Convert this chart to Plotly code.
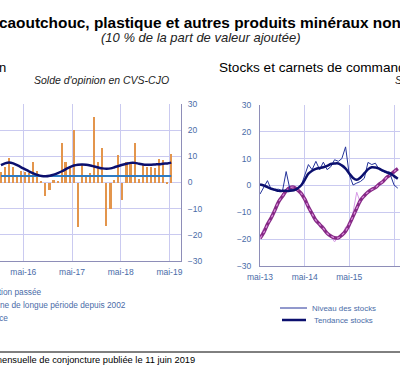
import pandas as pd
import plotly.graph_objects as go

# ---------------- data ----------------
# Left panel: monthly balance of opinion (Nov 2015 .. May 2019)
left_months = pd.date_range("2015-11-01", periods=43, freq="MS") + pd.Timedelta(days=14)
evolution_passee = [4, 6, 9.5, 6, 2, 4.4, 4, 3.5, 8, 4.4, 0.5, -5, -3, 1, 0.5,
                    15, 8, 5.6, 20, -17, 6.7, 2.5, 3.5, 25, 8, 13, -16.5, -10, 1,
                    10.5, -6.5, 8, 8, 15, 1.5, 6.7, 6, 6, 5.6, 9, 8.5, -0.5, 10.8]
tendance = [6.6, 7.3, 7.6, 7.3, 6.6, 5.8, 5.0, 4.2, 3.5, 2.9, 2.5, 2.4, 2.6, 3.0,
            3.6, 4.3, 5.1, 5.9, 6.5, 6.8, 6.9, 6.8, 6.5, 6.1, 5.7, 5.4, 5.3, 5.4,
            5.8, 6.3, 6.8, 7.2, 7.5, 7.5, 7.2, 6.9, 6.8, 6.8, 6.9, 7.0, 7.2, 7.3, 7.6]
moyenne_lp = [2.5] * 43

# Right panel: stocks and order books (May 2013 .. Jun 2016)
right_months = pd.date_range("2013-05-01", periods=38, freq="MS")
niveau_stocks = [-3.2, -0.5, 1.8, -1.5, -1.5, -1.4, -2, 5.2, -1.5, -1.6, -1.5, -0.3,
                 3.4, 7.8, 5.9, 9.0, 5.9, 8.7, 5.9, 7, 9.6, 9, 10, 14.4, 4, 0.2,
                 0.9, 1.5, 2.7, 8.6, 7.8, 8.3, 5.9, 5.2, 4.5, 4, 0.2, -1]
tendance_stocks = [0.4, 0, -0.6, -1.2, -1.6, -2, -2, -2, -2, -1.8, -1.2, 0, 2, 4.4,
                   5.5, 6.2, 6.5, 6.8, 7.3, 8, 8.2, 8.2, 7.5, 6.3, 4.5, 2.8, 2.1, 3,
                   4.5, 6, 6.8, 6.7, 6.3, 5.5, 5, 4.5, 3.5, 2.5]
niveau_carnets = [-19, -16, -15, -11, -9.5, -5, -4.5, -1.5, -0.5, -1, -1, -3.5, -4.5,
                  -8.5, -10, -12.5, -15.5, -15, -18, -19, -21, -19, -19, -15.5, -16,
                  -10, -2.5, -6.5, -3.5, -2, -1.5, -0.5, 0.5, 1.5, 3.5, 3.5, 5.5, 6.5]
tendance_carnets = [-19.7, -17.5, -14.5, -12, -9, -6, -4, -2, -0.8, -0.6, -1.5, -2.8,
                    -5, -8, -10.5, -13, -14.5, -16, -17.8, -18.8, -19.5, -19.5, -18.5,
                    -17, -14.5, -11.5, -8.5, -5.5, -3.8, -2.5, -1.5, -0.8, 0.5, 1.5,
                    3, 4, 5.2, 6.3]

left_tickvals = ["2016-05-01", "2017-05-01", "2018-05-01", "2019-05-01"]
left_ticktext = ["mai-16", "mai-17", "mai-18", "mai-19"]
right_tickvals = ["2013-05-01", "2014-05-01", "2015-05-01", "2016-05-01"]
right_ticktext = ["mai-13", "mai-14", "mai-15", "mai-16"]
y_ticks = [-30, -20, -10, 0, 10, 20, 30]

# ---------------- style ----------------
W, H = 400, 382
FONT = "Arial, Liberation Sans, sans-serif"
GRID = "#CACAF0"
AXLINE = "#8E8EB8"
TICKC = "#4A6CA8"
ORANGE = "#E3954C"
NAVY = "#0B0F6E"
BLUE = "#2E7BC4"


def px(x):
    return x / W


def py(y):
    return 1 - y / H


fig = go.Figure()

# Left panel
fig.add_trace(go.Bar(x=left_months, y=evolution_passee, marker_color=ORANGE,
                     marker_line_width=0, width=1.1e9, xaxis="x", yaxis="y"))
fig.add_trace(go.Scatter(x=left_months, y=moyenne_lp, mode="lines",
                         line=dict(color=BLUE, width=2), xaxis="x", yaxis="y"))
fig.add_trace(go.Scatter(x=left_months, y=tendance, mode="lines",
                         line=dict(color=NAVY, width=2.5, shape="spline"),
                         xaxis="x", yaxis="y"))

# Right panel
fig.add_trace(go.Scatter(x=right_months, y=niveau_carnets, mode="lines",
                         line=dict(color="#D79BE6", width=1), xaxis="x2", yaxis="y2"))
fig.add_trace(go.Scatter(x=right_months, y=tendance_carnets, mode="lines",
                         line=dict(color="#862A86", width=3.5, shape="spline"),
                         xaxis="x2", yaxis="y2"))
fig.add_trace(go.Scatter(x=right_months, y=tendance_carnets, mode="lines",
                         line=dict(color="#D98CD9", width=1.2, dash="dot", shape="spline"),
                         xaxis="x2", yaxis="y2"))
fig.add_trace(go.Scatter(x=right_months, y=niveau_stocks, mode="lines",
                         line=dict(color="#24339A", width=1), xaxis="x2", yaxis="y2"))
fig.add_trace(go.Scatter(x=right_months, y=tendance_stocks, mode="lines",
                         line=dict(color=NAVY, width=2.5, shape="spline"),
                         xaxis="x2", yaxis="y2"))

axis_common = dict(showgrid=True, gridcolor=GRID, gridwidth=1, zeroline=False,
                   showline=True, linecolor=AXLINE, linewidth=1, ticks="",
                   automargin=False,
                   tickfont=dict(family=FONT, size=8.5, color=TICKC))

fig.update_layout(
    width=W, height=H, margin=dict(l=0, r=0, t=0, b=0, pad=0),
    paper_bgcolor="white", plot_bgcolor="white", showlegend=False,
    bargap=0,
    xaxis=dict(domain=[0, px(181)], type="date", anchor="y",
               range=["2015-11-08", "2019-07-27"],
               tickmode="array", tickvals=left_tickvals, ticktext=left_ticktext,
               ticklabelstandoff=3, **axis_common),
    yaxis=dict(domain=[py(261), py(104)], range=[-30, 30], anchor="x", side="right",
               tickmode="array", tickvals=y_ticks, ticklabelstandoff=4,
               **axis_common),
    xaxis2=dict(domain=[px(260), 1], type="date", anchor="y2",
                range=["2013-05-01", "2016-06-19"],
                tickmode="array", tickvals=right_tickvals, ticktext=right_ticktext,
                ticklabelstandoff=3, **axis_common),
    yaxis2=dict(domain=[py(266), py(105)], range=[-30, 30], anchor="x2", side="left",
                tickmode="array", tickvals=y_ticks, ticklabelstandoff=6,
                **axis_common),
)

annots = [
    # main title and subtitle
    dict(text="<b>caoutchouc, plastique et autres produits minéraux non métalliques</b>",
         x=px(-3), y=py(22), xanchor="left", size=15.4, color="black"),
    dict(text="<i>(10 % de la part de valeur ajoutée)</i>",
         x=px(201), y=py(38), xanchor="center", size=13, color="#222222"),
    # panel titles
    dict(text="Production", x=px(8), y=py(68), xanchor="right", size=13, color="black"),
    dict(text="<i>Solde d'opinion en CVS-CJO</i>", x=px(101), y=py(80), xanchor="center",
         size=10.5, color="#222222"),
    dict(text="Stocks et carnets de commandes", x=px(217), y=py(68), xanchor="left",
         size=13.6, color="black"),
    dict(text="<i>Solde d'opinion en CVS-CJO</i>", x=px(393), y=py(80), xanchor="left",
         size=10.5, color="#222222"),
    # left legend texts
    dict(text="Évolution passée", x=px(44), y=py(292), xanchor="right", size=8.3, color=TICKC),
    dict(text="Moyenne de longue période depuis 2002", x=px(128), y=py(305),
         xanchor="right", size=8.3, color=TICKC),
    dict(text="Tendance", x=px(10), y=py(318), xanchor="right", size=8.3, color=TICKC),
    # right legend texts
    dict(text="Niveau des stocks", x=px(310), y=py(308), xanchor="left", size=7.9, color=TICKC),
    dict(text="Tendance stocks", x=px(312), y=py(320), xanchor="left", size=7.9, color=TICKC),
    # source
    dict(text="Source : Banque de France – Enquête mensuelle de conjoncture publiée le 11 juin 2019",
         x=px(197), y=py(360), xanchor="right", size=9.3, color="black"),
]
for a in annots:
    fig.add_annotation(text=a["text"], x=a["x"], y=a["y"], xref="paper", yref="paper",
                       xanchor=a["xanchor"], yanchor="middle", showarrow=False,
                       font=dict(family=FONT, size=a["size"], color=a["color"]))

# legend keys and footer rule
fig.add_shape(type="line", xref="paper", yref="paper", x0=px(280), x1=px(307),
              y0=py(308), y1=py(308), line=dict(color="#24339A", width=1))
fig.add_shape(type="line", xref="paper", yref="paper", x0=px(282), x1=px(306),
              y0=py(320), y1=py(320), line=dict(color=NAVY, width=2.5))
fig.add_shape(type="line", xref="paper", yref="paper", x0=0, x1=1,
              y0=py(352), y1=py(352), line=dict(color="black", width=1))

fig.write_html("out.html", config={"displayModeBar": False},
               post_script="document.body.style.margin='0';document.body.style.padding='0';")
